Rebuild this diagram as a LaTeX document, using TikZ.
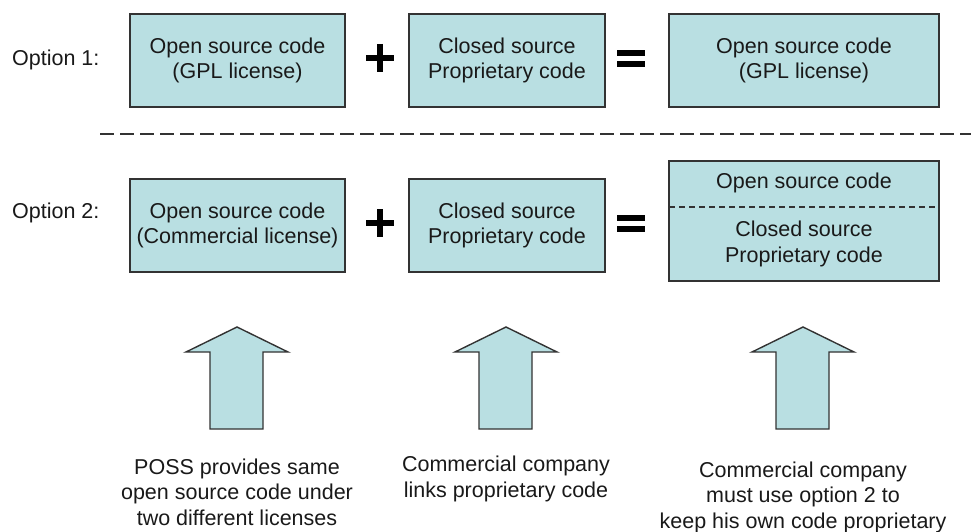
\documentclass[tikz,border=0pt]{standalone}
\usepackage{fontspec}
\setmainfont{Liberation Sans}
\definecolor{boxfill}{HTML}{B9DFE2}
\definecolor{boxline}{HTML}{333333}
\tikzset{
  x=1pt, y=-1pt,
  txt/.style={font=\fontsize{21.5}{25.5}\selectfont, align=center, inner sep=0pt, text=black!90},
  codebox/.style={draw=boxline, fill=boxfill, line width=1.4pt},
  uparrow/.style={draw=boxline, fill=boxfill, line width=1.4pt, line join=miter},
  sep/.style={draw=black!80, line width=2pt, dash pattern=on 14pt off 6pt}
}
\begin{document}
\begin{tikzpicture}
\useasboundingbox (0,0) rectangle (971,532);

% Option 1
\node[txt, anchor=west] (opt1) at (12,60) {Option 1:};
\draw[codebox] (130,14) rectangle (345,107);
\node[txt] (a1) at (237.5,60.5) {Open source code\\(GPL license)};
\draw[codebox] (409,14) rectangle (605,107);
\node[txt] (b1) at (507,60.5) {Closed source\\Proprietary code};
\draw[codebox] (669,14) rectangle (939,107);
\node[txt] (c1) at (804,60.5) {Open source code\\(GPL license)};
% plus and equals signs
\draw[line width=5.5pt] (366,58) -- (394,58) (380,44) -- (380,72);
\draw[line width=5.5pt] (617,53) -- (645,53) (617,64) -- (645,64);

% separator
\coordinate (s1) at (100,134);
\coordinate (s2) at (971,134);
\draw[sep] (s1) -- (s2);

% Option 2
\node[txt, anchor=west] (opt2) at (12,213) {Option 2:};
\draw[codebox] (130,179) rectangle (345,272);
\node[txt] (a2) at (237.5,225.5) {Open source code\\(Commercial license)};
\draw[codebox] (409,179) rectangle (605,272);
\node[txt] (b2) at (507,225.5) {Closed source\\Proprietary code};
\draw[codebox] (669,161) rectangle (939,281);
\draw[draw=boxline, line width=1.2pt, dash pattern=on 6pt off 4pt] (669,207) -- (939,207);
\node[txt] (c2a) at (804,183) {Open source code};
\node[txt] (c2b) at (804,244) {Closed source\\Proprietary code};
\draw[line width=5.5pt] (366,223) -- (394,223) (380,209) -- (380,237);
\draw[line width=5.5pt] (617,218) -- (645,218) (617,229) -- (645,229);

% block arrows
\foreach \cx in {237,506,803}{
  \draw[uparrow] (\cx,327) -- (\cx+51,352) -- (\cx+26,352) -- (\cx+26,429)
     -- (\cx-27,429) -- (\cx-27,352) -- (\cx-51,352) -- cycle;
}

% captions
\node[txt] (n1) at (237,492) {POSS provides same\\open source code under\\two different licenses};
\node[txt] (n2) at (506,479) {Commercial company\\links proprietary code};
\node[txt] (n3) at (803,497) {Commercial company\\must use option 2 to\\keep his own code proprietary};
\end{tikzpicture}
\end{document}
